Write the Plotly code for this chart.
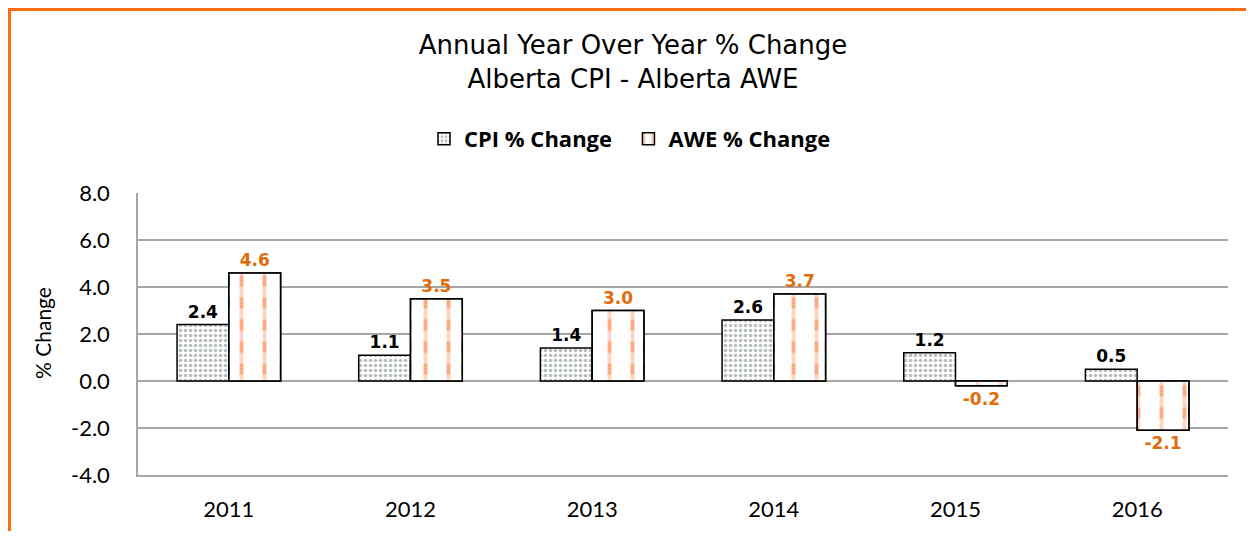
import plotly.graph_objects as go

years = ["2011", "2012", "2013", "2014", "2015", "2016"]
cpi_change = [2.4, 1.1, 1.4, 2.6, 1.2, 0.5]
awe_change = [4.6, 3.5, 3.0, 3.7, -0.2, -2.1]
y_ticks = [-4.0, -2.0, 0.0, 2.0, 4.0, 6.0, 8.0]

label_font = "DejaVu Sans"
body_font = "Lato"

# page has an 8px body margin, so the figure is sized to fit inside it
W, H = 1238, 523
L, R, T, B = 130, 18, 185, 56
plot_w = W - L - R
plot_h = H - T - B
nbsp = "\u00a0"

fig = go.Figure()
fig.add_trace(go.Bar(
    x=years, y=cpi_change, name="CPI % Change" + nbsp * 2, offsetgroup="cpi",
    marker=dict(color="white", line=dict(color="black", width=1.5),
                pattern=dict(shape=".", fgcolor="#6f7b7b", bgcolor="white",
                             size=5, solidity=0.4)),
    text=[f"{v:.1f}" for v in cpi_change], textposition="outside",
    textfont=dict(family=label_font, size=17, color="black", weight="bold"),
    cliponaxis=False,
))
fig.add_trace(go.Bar(
    x=years, y=awe_change, name="AWE % Change", offsetgroup="awe",
    marker=dict(color="white", line=dict(color="black", width=1.5),
                pattern=dict(shape="|", fgcolor="#ff5500", bgcolor="white",
                             size=23, solidity=0.17)),
    text=[f"{v:.1f}" for v in awe_change], textposition="outside",
    textfont=dict(family=label_font, size=17, color="#e26b0a", weight="bold"),
    cliponaxis=False,
))
# white horizontal stripes over the AWE bars turn the orange lines into dashes
fig.add_trace(go.Bar(
    x=years, y=awe_change, offsetgroup="awe", showlegend=False, hoverinfo="skip",
    marker=dict(color="rgba(0,0,0,0)", line=dict(color="black", width=1.5),
                pattern=dict(shape="-", fgcolor="white", bgcolor="rgba(0,0,0,0)",
                             size=22, solidity=0.5)),
))

fig.update_layout(
    width=W, height=H,
    paper_bgcolor="white", plot_bgcolor="white",
    margin=dict(l=L, r=R, t=T, b=B, autoexpand=False),
    barmode="group", bargap=0.43, bargroupgap=0,
    title=dict(text="Annual Year Over Year % Change<br>Alberta CPI - Alberta AWE",
               x=(625 - L) / plot_w, xref="paper", xanchor="center",
               y=1 - 46 / H, yanchor="middle",
               font=dict(family=label_font, size=26, color="black")),
    legend=dict(orientation="h", x=(622 - L) / plot_w, xanchor="center",
                y=(T + plot_h - 131) / plot_h, yanchor="middle",
                font=dict(family="Open Sans", size=22, color="black", weight="bold"),
                itemwidth=30),
    xaxis=dict(tickfont=dict(family=body_font, size=22, color="black"),
               showline=True, linecolor="#a6a6a6", linewidth=1.5,
               ticks="", ticklabelstandoff=14, automargin=False),
    yaxis=dict(range=[-4, 8], tickvals=y_ticks,
               ticktext=[f"{v:.1f}" for v in y_ticks],
               tickfont=dict(family=body_font, size=22, color="black"),
               showgrid=True, gridcolor="#a6a6a6", gridwidth=1.5,
               zeroline=True, zerolinecolor="#a6a6a6", zerolinewidth=1.5,
               showline=True, linecolor="#a6a6a6", linewidth=1.5,
               ticks="", ticklabelstandoff=22, automargin=False),
    annotations=[dict(text="% Change", xref="paper", yref="paper",
                      x=(34 - L) / plot_w, y=(467 - 325) / plot_h,
                      xanchor="center", yanchor="middle", textangle=-90,
                      showarrow=False,
                      font=dict(family=body_font, size=21, color="black"))],
    showlegend=True,
)

# orange frame on top and left edges
fig.add_shape(type="line", xref="paper", yref="paper",
              x0=-L / plot_w, x1=(W - L) / plot_w,
              y0=(T + plot_h - 1.5) / plot_h, y1=(T + plot_h - 1.5) / plot_h,
              line=dict(color="#ff6a13", width=3))
fig.add_shape(type="line", xref="paper", yref="paper",
              x0=(1.5 - L) / plot_w, x1=(1.5 - L) / plot_w,
              y0=-B / plot_h, y1=(T + plot_h) / plot_h,
              line=dict(color="#ff6a13", width=3))

fig.write_html("out.html")
